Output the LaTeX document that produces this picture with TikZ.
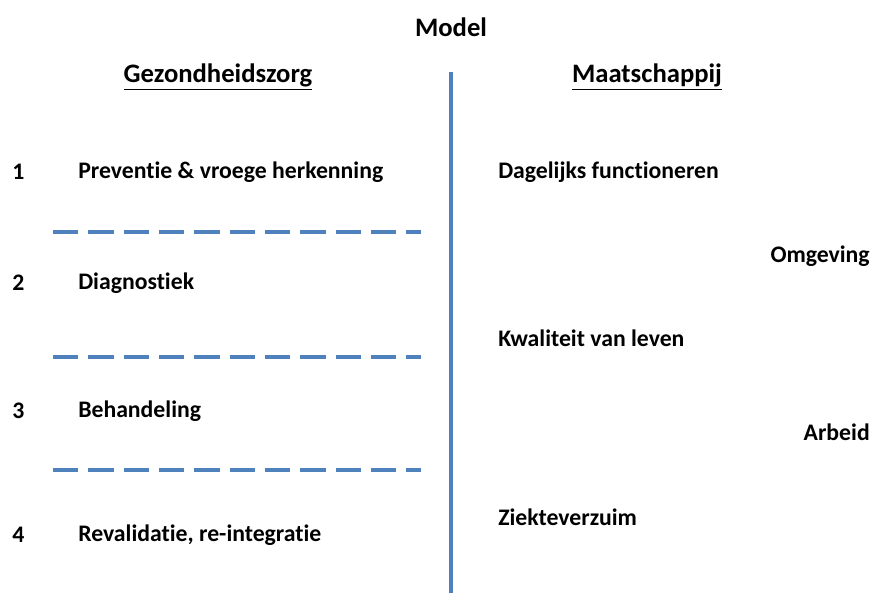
\documentclass[tikz,border=0pt]{standalone}
\usepackage{fontspec}
\setmainfont[Ligatures={NoCommon}]{Carlito}
\usetikzlibrary{positioning}
\definecolor{lineblue}{RGB}{79,129,189}

\begin{document}
\begin{tikzpicture}[
  x=0.75pt,y=-0.75pt,
  every node/.style={font=\fontsize{17.8}{20}\selectfont\bfseries,inner sep=0pt},
  item/.style={anchor=west},
  head/.style={anchor=center,font=\fontsize{20}{22}\selectfont\bfseries},
  divider/.style={lineblue,line width=2.4pt,dash pattern=on 19pt off 7.5pt},
  spine/.style={lineblue,line width=2.4pt}
]
\useasboundingbox (0,0) rectangle (874,593);
\node[head] (model) at (451,27) {Model};
\node[head] (care) at (218,77) {\underline{Gezondheidszorg}};
\node[head] (soc) at (647,77) {\underline{Maatschappij}};

% left column: numbered phases
\node[item] (n1) at (12,172) {1};
\node[item] (n2) at (12,283) {2};
\node[item] (n3) at (12,411) {3};
\node[item] (n4) at (12,535) {4};
\node[item] (prev) at (78,172) {Preventie \& vroege herkenning};
\node[item] (diag) at (78,283) {Diagnostiek};
\node[item] (beh) at (78,411) {Behandeling};
\node[item] (reval) at (78,535) {Revalidatie, re-integratie};

% right column
\node[item] (dag) at (498,172) {Dagelijks functioneren};
\node[item] (kwal) at (498,338) {Kwaliteit van leven};
\node[item] (ziek) at (498,517) {Ziekteverzuim};
\node[anchor=east] (omg) at (870,256) {Omgeving};
\node[anchor=east] (arb) at (870,432) {Arbeid};

% dividers
\coordinate (d1a) at (53,232); \coordinate (d1b) at (421,232);
\coordinate (d2a) at (53,357); \coordinate (d2b) at (421,357);
\coordinate (d3a) at (53,470); \coordinate (d3b) at (421,470);
\draw[divider] (d1a) -- (d1b);
\draw[divider] (d2a) -- (d2b);
\draw[divider] (d3a) -- (d3b);

\coordinate (top) at (451,72);
\coordinate (bot) at (451,593);
\draw[spine] (top) -- (bot);
\end{tikzpicture}
\end{document}
